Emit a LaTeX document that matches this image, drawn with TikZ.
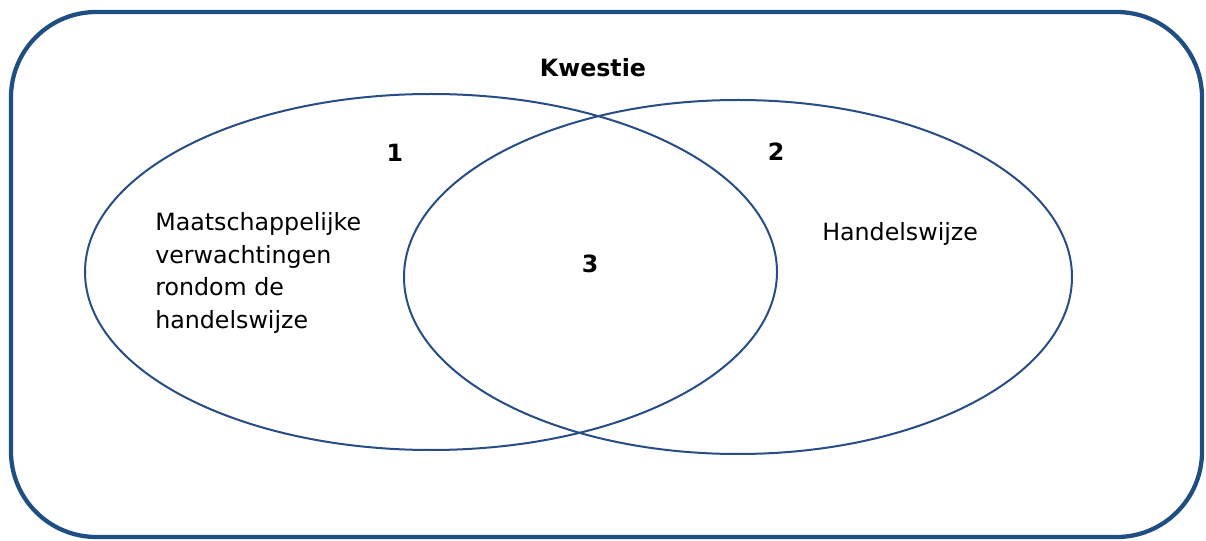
\documentclass[tikz,border=0pt]{standalone}
\usepackage{fontspec}
\setmainfont{DejaVu Sans}
\begin{document}
\begin{tikzpicture}[x=0.75pt,y=-0.75pt,
  frame/.style={draw=frameblue,line width=3.2pt,rounded corners=64pt},
  set/.style={draw=setblue,line width=1.5pt},
  lbl/.style={font=\fontsize{17.8}{24.6}\selectfont,inner sep=0pt},
  num/.style={font=\fontsize{17.8}{24.6}\selectfont\bfseries,inner sep=0pt}]
\definecolor{frameblue}{HTML}{1F4E83}
\definecolor{setblue}{HTML}{284D86}
\useasboundingbox (0,0) rectangle (1206,541);
% outer frame
\draw[frame] (11,12) rectangle (1202,537);
% two overlapping sets
\draw[set] (431,272) ellipse [x radius=346, y radius=178];
\draw[set] (738,277) ellipse [x radius=334, y radius=177];
% labels
\node[num] (kw) at (593,68) {Kwestie};
\node[num] (n1) at (395,153) {1};
\node[num] (n2) at (776,152) {2};
\node[num] (n3) at (590,264) {3};
\node[lbl,anchor=north west,align=left] (left) at (155,212)
  {Maatschappelijke\\verwachtingen\\rondom de\\handelswijze};
\node[lbl,anchor=west] (right) at (822,234) {Handelswijze};
\end{tikzpicture}
\end{document}
